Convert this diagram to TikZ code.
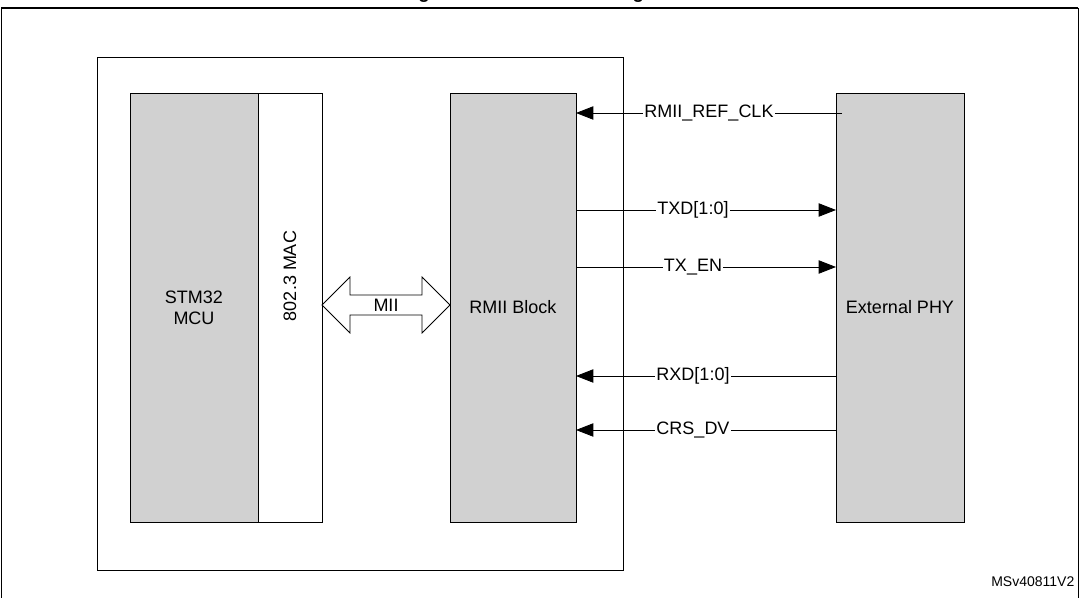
\documentclass[tikz,border=0pt]{standalone}
\usepackage{fontspec}
\setmainfont{Liberation Sans}
\usetikzlibrary{arrows.meta,shapes.arrows}
\begin{document}
\begin{tikzpicture}[x=0.75pt,y=-0.75pt,
  blk/.style={draw,fill=black!18,line width=0.6pt},
  sig/.style={line width=0.6pt},
  tip/.style={-{Triangle[length=13pt,width=10pt]}},
  txt/.style={font=\fontsize{13.5}{16}\selectfont},
  lbl/.style={fill=white,inner sep=1pt,txt}]
\useasboundingbox (0,0) rectangle (1079,598);
\begin{scope}
\clip (0,0) rectangle (1079,7);
\node[font=\bfseries\fontsize{14}{16}\selectfont,anchor=base] (title) at (540,-1) {Figure 558. RMII block diagram};
\end{scope}
\draw[line width=0.9pt] (1,8) -- (1078,8);
\draw[line width=0.6pt] (1,8) -- (1,598) (1078,8) -- (1078,598);
\node[draw,line width=0.6pt,minimum width=526*0.75pt,minimum height=513*0.75pt,inner sep=0] (chip) at (360,313.5) {};
\node[blk,minimum width=128*0.75pt,minimum height=429*0.75pt,inner sep=0,align=center,txt] (mcu) at (194,307.5) {STM32\\MCU};
\node[draw,fill=white,line width=0.6pt,minimum width=64*0.75pt,minimum height=429*0.75pt,inner sep=0] (mac) at (290,307.5) {};
\node[rotate=90,txt] (macl) at (290,276) {802.3 MAC};
\node[blk,minimum width=126*0.75pt,minimum height=429*0.75pt,inner sep=0,txt] (rmii) at (513,307.5) {RMII Block};
\node[blk,minimum width=128*0.75pt,minimum height=429*0.75pt,inner sep=0,txt] (phy) at (900,307.5) {External PHY};
\node[double arrow,draw,fill=white,line width=0.6pt,minimum width=56*0.75pt,minimum height=128*0.75pt,
  double arrow head extend=12*0.75pt,inner sep=0,txt,
  double arrow tip angle=90] (mii) at (386,305) {MII};
\coordinate (p1) at (842,113); \coordinate (r1) at (576,113);
\draw[sig,tip] (p1) -- node[lbl,pos=0.5] (l1) {RMII\_REF\_CLK} (r1);
\coordinate (r2) at (576,210); \coordinate (p2) at (836,210);
\draw[sig,tip] (r2) -- node[lbl,pos=0.45] (l2) {TXD[1:0]} (p2);
\coordinate (r3) at (576,267); \coordinate (p3) at (836,267);
\draw[sig,tip] (r3) -- node[lbl,pos=0.45] (l3) {TX\_EN} (p3);
\coordinate (p4) at (836,376); \coordinate (r4) at (576,376);
\draw[sig,tip] (p4) -- node[lbl,pos=0.55] (l4) {RXD[1:0]} (r4);
\coordinate (p5) at (836,430); \coordinate (r5) at (576,430);
\draw[sig,tip] (p5) -- node[lbl,pos=0.55] (l5) {CRS\_DV} (r5);
\node[anchor=base east,font=\fontsize{10.5}{12}\selectfont] (ref) at (1079,586) {MSv40811V2};
\end{tikzpicture}
\end{document}
